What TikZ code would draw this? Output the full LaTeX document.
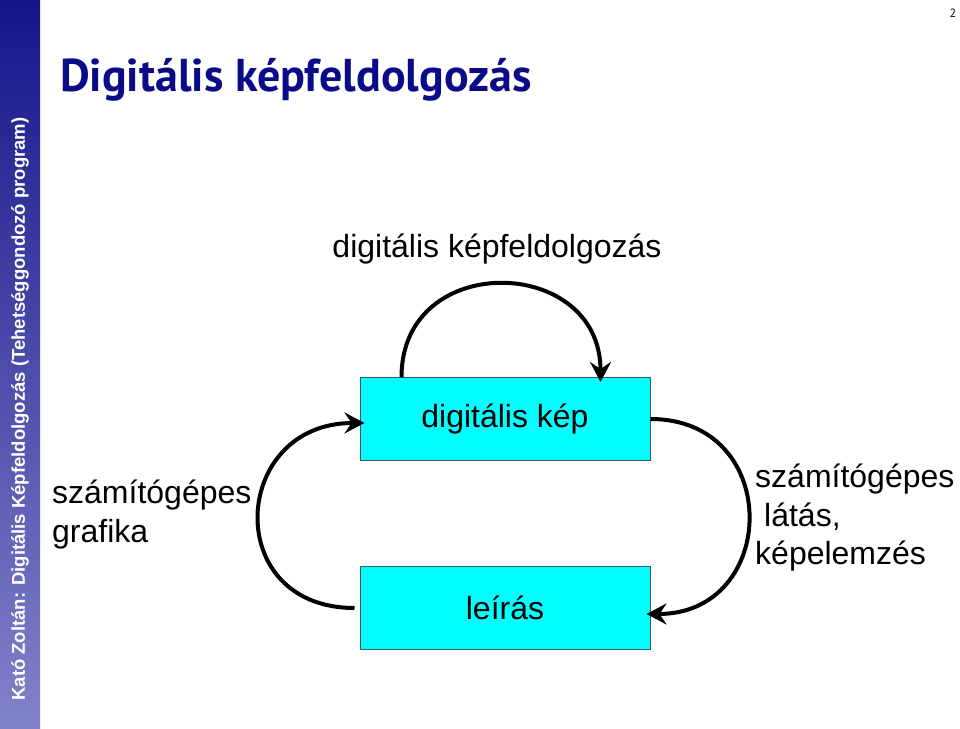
\documentclass[tikz,border=0pt]{standalone}
\usepackage{fontspec}
\setmainfont{Liberation Sans}
\newfontfamily\titlefont{PT Sans}
\usepackage{tikz}
\usetikzlibrary{arrows.meta,positioning,calc}
\usepackage{xcolor}
\definecolor{kzNavy}{HTML}{0B0B8A}
\definecolor{kzBarTop}{HTML}{15158A}
\definecolor{kzBarBot}{HTML}{8282CA}
\definecolor{kzCyan}{HTML}{00FFFF}
\definecolor{kzEdge}{HTML}{3A5A5A}
\tikzset{
  box/.style={draw=kzEdge, fill=kzCyan, line width=1pt, minimum width=290pt, minimum height=83pt, inner sep=0pt, font=\fontsize{32}{38.4}\selectfont},
  lbl/.style={inner sep=0pt, align=left, font=\fontsize{32}{38.4}\selectfont},
  arr/.style={-{Stealth[length=20pt,width=21pt,inset=7pt]}, line width=4pt, draw=black},
}

\begin{document}
\begin{tikzpicture}[x=1pt, y=1pt, node distance=105pt]
  \useasboundingbox (0,0) rectangle (960,728);
  \fill[white] (0,0) rectangle (960,728);
  \shade[top color=kzBarTop, bottom color=kzBarBot] (0,0) rectangle (40,728);
  \node[rotate=90, text=white, font=\fontsize{18.5}{22}\selectfont\bfseries] (side) at (20,319)
    {Kató Zoltán: Digitális Képfeldolgozás (Tehetséggondozó program)};
  \node[anchor=base west, inner sep=0pt, text=kzNavy, font=\titlefont\fontsize{46}{55}\selectfont\bfseries] (title) at (60,636)
    {Digitális képfeldolgozás};
  \node[anchor=base, inner sep=0pt, font=\titlefont\fontsize{12}{14}\selectfont] (pnum) at (953,710) {2};

  \node[box] (dk) at (505,309) {digitális kép};
  \node[box, below=of dk] (lr) {leírás};

  \node[lbl, anchor=base] (dkf) at (497,470) {digitális képfeldolgozás};
  \node[lbl, anchor=north west] (grafika) at (52,248) {számítógépes\\grafika};
  \node[lbl, anchor=north west] (latas) at (755,264) {számítógépes\\\hspace*{0.28em}látás,\\képelemzés};

  \draw[arr] ([xshift=42pt]dk.north west) to[out=90, in=90, looseness=1.63] ([xshift=-50pt, yshift=-5pt]dk.north east);
  \draw[arr] ([xshift=-5pt]lr.west) to[out=180, in=180, looseness=1.85] ([xshift=5pt, yshift=-4pt]dk.west);
  \draw[arr] (dk.east) to[out=0, in=0, looseness=1.74] ([xshift=-4pt, yshift=-6pt]lr.east);
\end{tikzpicture}
\end{document}
